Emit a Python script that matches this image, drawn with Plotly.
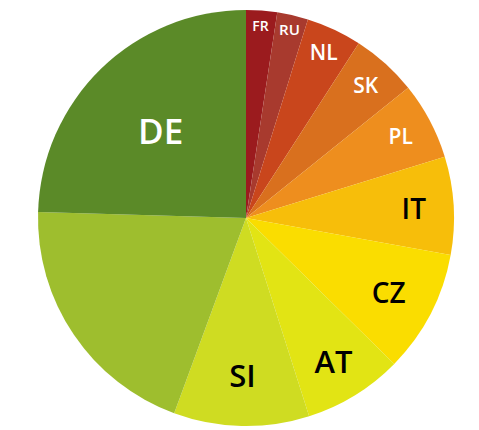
import plotly.graph_objects as go

labels = ["FR", "RU", "NL", "SK", "PL", "IT", "CZ", "AT", "SI", "Other", "DE"]
values = [2.4, 2.4, 4.3, 5.1, 6.0, 7.6, 9.5, 7.7, 10.5, 19.8, 24.5]
shown_text = ["FR", "RU", "NL", "SK", "PL", "IT", "CZ", "AT", "SI", "", "DE"]
colors = ["#9B1B1E", "#A83A2E", "#C9461C", "#D9701E", "#EE8E1E", "#F7BE0A",
          "#FADD00", "#E2E414", "#CFDC22", "#9EBE2E", "#5B8A28"]
text_colors = ["white", "white", "white", "white", "white", "black",
               "black", "black", "black", "black", "white"]
text_sizes = [14, 17, 21, 21, 21, 28, 28, 31, 31, 22, 35]

W, H = 479, 430
# page has an 8px body margin, so the figure origin sits at (8, 8)
cx, cy, r = 238, 210, 208

fig = go.Figure(go.Pie(
    labels=labels,
    values=values,
    text=shown_text,
    textinfo="text",
    textposition="inside",
    insidetextorientation="horizontal",
    sort=False,
    direction="clockwise",
    rotation=0,
    marker=dict(colors=colors, line=dict(width=0)),
    textfont=dict(family="Open Sans", color=text_colors, size=text_sizes, weight=600),
    domain=dict(x=[(cx - r) / W, (cx + r) / W], y=[1 - (cy + r) / H, 1 - (cy - r) / H]),
    hoverinfo="label+percent",
    showlegend=False,
))

fig.update_layout(
    width=W, height=H,
    margin=dict(l=0, r=0, t=0, b=0),
    paper_bgcolor="white",
    plot_bgcolor="white",
    showlegend=False,
)

fig.write_html("out.html")
